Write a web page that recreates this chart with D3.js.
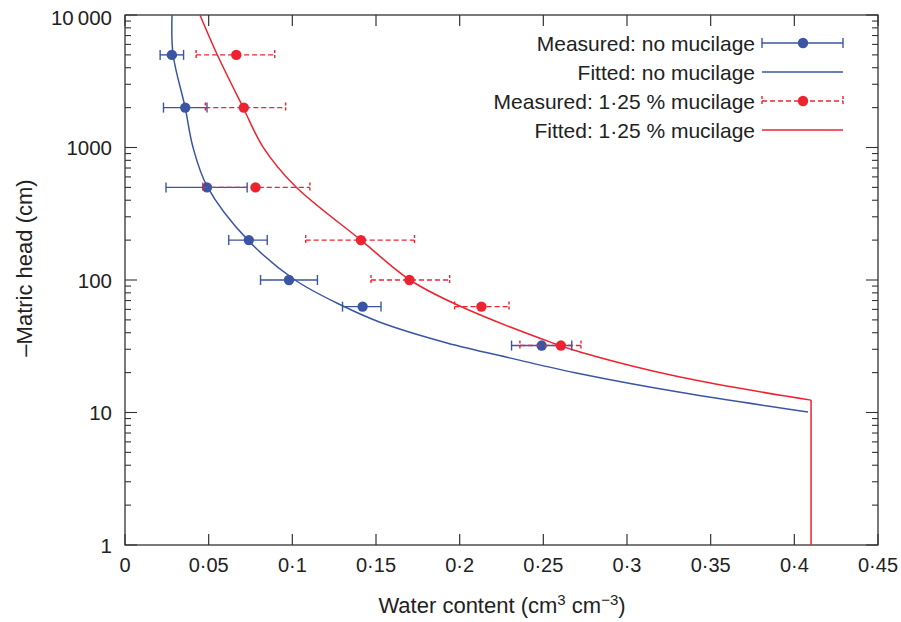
<!DOCTYPE html>
<html><head><meta charset="utf-8">
<script src="https://cdn.jsdelivr.net/npm/d3@7"></script>
<style>
body{margin:0;background:#fff;}
text{font-family:"Liberation Sans",Arial,sans-serif;fill:#222;}
</style></head>
<body><svg id="c" width="901" height="622"></svg>
<script>
// ---- data ----
const xTicks = [0,0.05,0.1,0.15,0.2,0.25,0.3,0.35,0.4,0.45];
const xTickLabels = ["0","0·05","0·1","0·15","0·2","0·25","0·3","0·35","0·4","0·45"];
const yTicks = [1,10,100,1000,10000];
const yTickLabels = ["1","10","100","1000","10\u2009000"];

const heads = [5000,2000,500,200,100,63,32];
const blueTheta = [0.028,0.036,0.049,0.074,0.098,0.142,0.249];
const blueLo    = [0.021,0.023,0.0245,0.062,0.081,0.130,0.231];
const blueHi    = [0.035,0.049,0.073,0.085,0.115,0.153,0.267];
const redTheta  = [0.0665,0.071,0.078,0.141,0.170,0.213,0.2605];
const redLo     = [0.0425,0.048,0.0465,0.108,0.147,0.197,0.236];
const redHi     = [0.0895,0.096,0.1105,0.173,0.194,0.2295,0.2725];

const blueFitTheta = [0.0281,0.0287,0.0359,0.0406,0.049,0.0735,0.1016,0.1303,0.1524,0.1924,0.2319,0.2719,0.3317,0.4082];
const blueFitHead  = [10000,5055,2014,1008,512,200,100,63.6,48,33.5,25.5,19.6,14.2,10.1];
const redFitTheta  = [0.0448,0.055,0.0705,0.0825,0.1016,0.141,0.1703,0.1984,0.2558,0.2719,0.3317,0.41,0.41];
const redFitHead   = [10000,5055,2014,1008,512,200,100,65,33.4,28.6,18.5,12.4,1];

const legendLabels = ["Measured: no mucilage","Fitted: no mucilage","Measured: 1·25 % mucilage","Fitted: 1·25 % mucilage"];

// ---- chart ----
const blue = "#3a55a4", red = "#ee2330";
const svg = d3.select("#c");
const L=125, R=878, T=15, B=545;
const x = d3.scaleLinear().domain([0,0.45]).range([L,R]);
const y = d3.scaleLog().domain([1,10000]).range([B,T]);

const g = svg.append("g");
g.append("rect").attr("x",L).attr("y",T).attr("width",R-L).attr("height",B-T)
  .attr("fill","none").attr("stroke","#333").attr("stroke-width",1.3);

xTicks.forEach((t,i)=>{
  g.append("line").attr("x1",x(t)).attr("x2",x(t)).attr("y1",B).attr("y2",B-11).attr("stroke","#333").attr("stroke-width",1.2);
  g.append("line").attr("x1",x(t)).attr("x2",x(t)).attr("y1",T).attr("y2",T+11).attr("stroke","#333").attr("stroke-width",1.2);
  g.append("text").attr("x",x(t)).attr("y",572).attr("text-anchor","middle")
    .attr("font-size",20).text(xTickLabels[i]);
});
const minor = y.ticks();
minor.forEach(v=>{
  const major = yTicks.includes(v);
  const len = major?12:6;
  g.append("line").attr("x1",L).attr("x2",L+len).attr("y1",y(v)).attr("y2",y(v)).attr("stroke","#333").attr("stroke-width",1.1);
  g.append("line").attr("x1",R).attr("x2",R-len).attr("y1",y(v)).attr("y2",y(v)).attr("stroke","#333").attr("stroke-width",1.1);
});
yTicks.forEach((t,i)=>{
  g.append("text").attr("x",112).attr("y",y(t)+(i===4?10:7.5)).attr("text-anchor","end").attr("font-size",20.5).text(yTickLabels[i]);
});

g.append("text").attr("transform",`translate(32,268) rotate(-90)`).attr("text-anchor","middle")
  .attr("font-size",22).text("\u2013Matric head (cm)");
const xt = g.append("text").attr("x",502).attr("y",613).attr("text-anchor","middle").attr("font-size",22);
xt.append("tspan").text("Water content (cm");
xt.append("tspan").attr("dy",-8).attr("font-size",15).text("3");
xt.append("tspan").attr("dy",8).text(" cm");
xt.append("tspan").attr("dy",-8).attr("font-size",15).text("\u22123");
xt.append("tspan").attr("dy",8).text(")");

const line = d3.line().x(d=>x(d[0])).y(d=>y(d[1])).curve(d3.curveCatmullRom);
g.append("path").datum(blueFitTheta.map((t,i)=>[t,blueFitHead[i]]))
  .attr("d",line).attr("fill","none").attr("stroke",blue).attr("stroke-width",1.5);
const redPts = redFitTheta.map((t,i)=>[t,redFitHead[i]]);
g.append("path").datum(redPts.slice(0,-1)).attr("d",line).attr("fill","none").attr("stroke",red).attr("stroke-width",1.5);
g.append("path").datum(redPts.slice(-2)).attr("d",d3.line().x(d=>x(d[0])).y(d=>y(d[1]))).attr("fill","none").attr("stroke",red).attr("stroke-width",1.5);

function series(theta, lo, hi, color, dash){
  heads.forEach((h,i)=>{
    const yy=y(h);
    g.append("line").attr("x1",x(lo[i])).attr("x2",x(hi[i])).attr("y1",yy).attr("y2",yy)
      .attr("stroke",color).attr("stroke-width",1.4).attr("stroke-dasharray",dash);
    [lo[i],hi[i]].forEach(v=>g.append("line").attr("x1",x(v)).attr("x2",x(v)).attr("y1",yy-5).attr("y2",yy+5)
      .attr("stroke",color).attr("stroke-width",1.4).attr("stroke-dasharray",dash?"3,2":null));
  });
  heads.forEach((h,i)=>{
    g.append("circle").attr("cx",x(theta[i])).attr("cy",y(h)).attr("r",5.2).attr("fill",color);
  });
}
series(blueTheta,blueLo,blueHi,blue,null);
series(redTheta,redLo,redHi,red,"5,3");

const ly=[43,72,101,130], lx1=762, lx2=843;
legendLabels.forEach((lab,i)=>{
  g.append("text").attr("x",755).attr("y",ly[i]+7.5).attr("text-anchor","end").attr("font-size",21).text(lab);
});
g.append("line").attr("x1",lx1).attr("x2",lx2).attr("y1",ly[0]).attr("y2",ly[0]).attr("stroke",blue).attr("stroke-width",1.4);
[lx1,lx2].forEach(v=>g.append("line").attr("x1",v).attr("x2",v).attr("y1",ly[0]-5).attr("y2",ly[0]+5).attr("stroke",blue).attr("stroke-width",1.4));
g.append("circle").attr("cx",(lx1+lx2)/2+0.5).attr("cy",ly[0]).attr("r",5.2).attr("fill",blue);
g.append("line").attr("x1",lx1).attr("x2",lx2).attr("y1",ly[1]).attr("y2",ly[1]).attr("stroke",blue).attr("stroke-width",1.5);
g.append("line").attr("x1",lx1).attr("x2",lx2).attr("y1",ly[2]).attr("y2",ly[2]).attr("stroke",red).attr("stroke-width",1.4).attr("stroke-dasharray","5,3");
[lx1,lx2].forEach(v=>g.append("line").attr("x1",v).attr("x2",v).attr("y1",ly[2]-5).attr("y2",ly[2]+5).attr("stroke",red).attr("stroke-width",1.4).attr("stroke-dasharray","3,2"));
g.append("circle").attr("cx",(lx1+lx2)/2+0.5).attr("cy",ly[2]).attr("r",5.2).attr("fill",red);
g.append("line").attr("x1",lx1).attr("x2",lx2).attr("y1",ly[3]).attr("y2",ly[3]).attr("stroke",red).attr("stroke-width",1.5);
</script></body></html>
